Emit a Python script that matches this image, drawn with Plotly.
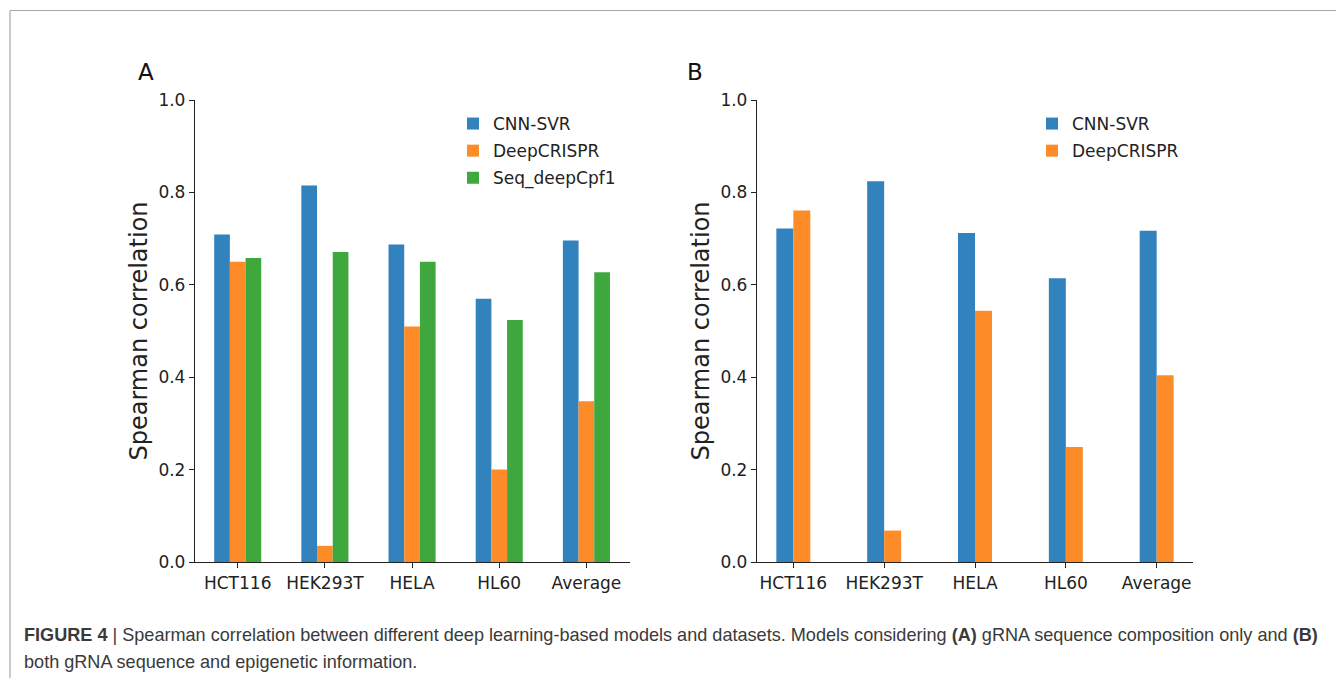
import plotly.graph_objects as go

# Page offset: the browser body has an 8px margin, so the figure is drawn 8px in.
OFF = 8
W, H = 1344 - OFF, 678 - OFF

categories = ["HCT116", "HEK293T", "HELA", "HL60", "Average"]

# Panel A: gRNA sequence composition only
a_cnn_svr = [0.709, 0.815, 0.687, 0.570, 0.696]
a_deepcrispr = [0.650, 0.035, 0.510, 0.200, 0.348]
a_seq_deepcpf1 = [0.658, 0.671, 0.650, 0.524, 0.627]

# Panel B: gRNA sequence + epigenetic information
b_cnn_svr = [0.722, 0.824, 0.712, 0.614, 0.717]
b_deepcrispr = [0.761, 0.068, 0.544, 0.249, 0.404]

y_ticks = [0.0, 0.2, 0.4, 0.6, 0.8, 1.0]

BLUE = "#3282bd"
ORANGE = "#fd8c28"
GREEN = "#3ea73e"

def px_x(p):
    return (p - OFF) / W

def px_y(p):
    return 1 - (p - OFF) / H

fig = go.Figure()

wa = 0.18
for name, vals, col, off in [
    ("CNN-SVR", a_cnn_svr, BLUE, -1.5 * wa),
    ("DeepCRISPR", a_deepcrispr, ORANGE, -0.5 * wa),
    ("Seq_deepCpf1", a_seq_deepcpf1, GREEN, 0.5 * wa),
]:
    fig.add_trace(go.Bar(
        x=categories, y=vals, name=name, width=wa, offset=off,
        marker=dict(color=col, line=dict(width=0)),
        xaxis="x", yaxis="y", legend="legend", legendgroup="a" + name,
    ))

wb = 0.187
for name, vals, col, off in [
    ("CNN-SVR", b_cnn_svr, BLUE, -wb),
    ("DeepCRISPR", b_deepcrispr, ORANGE, 0.0),
]:
    fig.add_trace(go.Bar(
        x=categories, y=vals, name=name, width=wb, offset=off,
        marker=dict(color=col, line=dict(width=0)),
        xaxis="x2", yaxis="y2", legend="legend2", legendgroup="b" + name,
    ))

tick_font = dict(family="DejaVu Sans", size=17, color="#222222")
title_font = dict(family="DejaVu Sans", size=24, color="#222222")

def xaxis(domain, rng, anchor):
    return dict(
        domain=domain, range=rng, anchor=anchor, type="category",
        automargin=False,
        showline=True, linecolor="#222222", linewidth=1.3,
        ticks="outside", ticklen=5, tickcolor="#222222", tickwidth=1.2,
        showgrid=False, zeroline=False, tickfont=tick_font,
        tickvals=categories, ticktext=categories,
    )

def yaxis(domain, anchor):
    return dict(
        domain=domain, range=[0, 1.0], anchor=anchor,
        automargin=False,
        showline=True, linecolor="#222222", linewidth=1.3,
        ticks="outside", ticklen=5, tickcolor="#222222", tickwidth=1.2,
        showgrid=False, zeroline=False, tickfont=tick_font,
        tickvals=y_ticks, tickformat=".1f",
        title=dict(text="Spearman correlation", font=title_font, standoff=4),
    )

ydom = [px_y(562), px_y(100)]

legend_common = dict(
    font=dict(family="DejaVu Sans", size=17, color="#222222"),
    bgcolor="rgba(0,0,0,0)", borderwidth=0,
    xanchor="left", yanchor="top", tracegroupgap=2,
    itemwidth=30,
)

caption_font = dict(family="Liberation Sans", size=18.1, color="#3a3a3a")

fig.update_layout(
    template="none",
    width=W, height=H,
    margin=dict(l=0, r=0, t=0, b=0, pad=0),
    paper_bgcolor="white", plot_bgcolor="white",
    barmode="overlay",
    showlegend=True,
    xaxis=xaxis([px_x(195), px_x(630)], [-0.49, 4.5], "y"),
    yaxis=yaxis(ydom, "x"),
    xaxis2=xaxis([px_x(757), px_x(1193)], [-0.4, 4.4], "y2"),
    yaxis2=yaxis(ydom, "x2"),
    legend=dict(x=px_x(453), y=px_y(106), **legend_common),
    legend2=dict(x=px_x(1032), y=px_y(106), **legend_common),
    shapes=[
        dict(type="line", xref="paper", yref="paper",
             x0=px_x(10), x1=1.0, y0=px_y(10.5), y1=px_y(10.5),
             line=dict(color="#a8a8a8", width=1.2)),
        dict(type="line", xref="paper", yref="paper",
             x0=px_x(10), x1=px_x(10), y0=px_y(10.5), y1=0,
             line=dict(color="#a8a8a8", width=1.2)),
    ],
    annotations=[
        dict(text="A", x=px_x(146), y=px_y(72), xref="paper", yref="paper",
             showarrow=False, xanchor="center", yanchor="middle",
             font=dict(family="DejaVu Sans", size=23, color="#111111")),
        dict(text="B", x=px_x(695), y=px_y(72), xref="paper", yref="paper",
             showarrow=False, xanchor="center", yanchor="middle",
             font=dict(family="DejaVu Sans", size=23, color="#111111")),
        dict(text="<b>FIGURE 4</b> | Spearman correlation between different deep learning-based models and datasets. "
                  "Models considering <b>(A)</b> gRNA sequence composition only and <b>(B)</b>",
             x=px_x(22), y=px_y(635), xref="paper", yref="paper",
             showarrow=False, xanchor="left", yanchor="middle", align="left",
             font=caption_font),
        dict(text="both gRNA sequence and epigenetic information.",
             x=px_x(22), y=px_y(662), xref="paper", yref="paper",
             showarrow=False, xanchor="left", yanchor="middle", align="left",
             font=caption_font),
    ],
)

fig.write_html("out.html")
